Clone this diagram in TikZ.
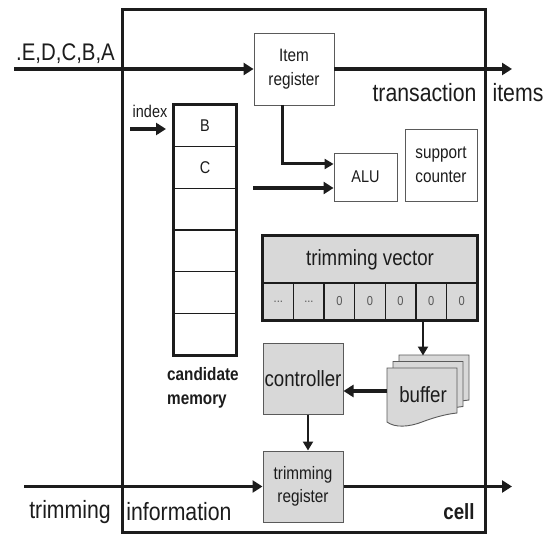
\documentclass[tikz,border=0pt]{standalone}
\usepackage{fontspec}
\newfontfamily\nf{Liberation Sans}[FakeStretch=0.85]
\usetikzlibrary{arrows.meta}
\definecolor{boxgray}{HTML}{D8D8D8}
\definecolor{ink}{HTML}{1C1C1C}
\definecolor{thinline}{HTML}{5A5A5A}
\newcommand\fsz[2]{\fontsize{#1}{#2}\selectfont}
\newcommand\tvdots{...}
\begin{document}
\begin{tikzpicture}[x=1pt,y=-1pt,font=\nf,text=ink,
  whitebox/.style={draw=thinline,line width=0.9pt,fill=white,inner sep=0pt,align=center},
  graybox/.style={draw=thinline,line width=1pt,fill=boxgray,inner sep=0pt,align=center},
  memrow/.style={draw=ink,line width=1.2pt,fill=white,minimum width=62pt,minimum height=41.67pt,inner sep=0pt,font=\nf\fsz{17}{20}},
  tvcell/.style={draw=ink,line width=1.4pt,fill=boxgray,minimum width=30.57pt,minimum height=37pt,inner sep=0pt,font=\nf\fsz{13}{15},text=ink!75},
  arr/.style={draw=ink,line width=3.6pt,-{Triangle[length=10pt,width=12pt]}},
  arrthin/.style={draw=ink,line width=2.6pt,-{Triangle[length=9pt,width=10pt]}},
  label/.style={inner sep=0pt,align=center},
  sheet/.style={draw=thinline,line width=0.9pt,fill=boxgray}]
\useasboundingbox (0,0) rectangle (551,534);
\fill[white] (0,0) rectangle (551,534);

% the cell
\draw[ink,line width=3pt] (122,9.5) rectangle (485,532);

% item register, ALU, support counter
\node[whitebox,minimum width=80pt,minimum height=72pt,font=\nf\fsz{18}{24}] (itemreg) at (294,69) {Item\\register};
\node[whitebox,minimum width=63pt,minimum height=48pt,font=\nf\fsz{17}{20}] (alu) at (365.5,177) {ALU};
\node[whitebox,minimum width=72pt,minimum height=72pt,font=\nf\fsz{18}{24}] (support) at (441,165) {support\\counter};

% candidate memory
\foreach \t [count=\i] in {B,C,{},{},{},{}}
  \node[memrow] (m\i) at (205,{105+41.67*(\i-0.5)}) {\t};
\draw[ink,line width=3pt] (m1.north west) rectangle (m6.south east);
\node[label,anchor=north west,align=left,font=\nf\bfseries\fsz{18}{24}] (candlabel) at (167,367) {candidate\\memory};
\node[label,font=\nf\fsz{17}{20}] (index) at (150,111) {index};
\coordinate (indexstart) at (130,129);

% trimming vector
\node[tvcell,minimum width=214pt,minimum height=47pt,font=\nf\fsz{22}{26},text=ink] (tvtitle) at (370,259.5) {trimming vector};
\foreach \t [count=\i] in {\tvdots,\tvdots,0,0,0,0,0}
  \node[tvcell] (c\i) at ({263+30.57*(\i-0.5)},301.5) {\t};
\draw[ink,line width=3pt] (tvtitle.north west) rectangle (c7.south east);

% controller and trimming register
\node[graybox,minimum width=80pt,minimum height=71pt,font=\nf\fsz{22}{26}] (controller) at (303,378.5) {controller};
\node[graybox,minimum width=80pt,minimum height=71pt,font=\nf\fsz{18}{23}] (trimreg) at (303,486.5) {trimming\\register};

% buffer: three stacked sheets
\foreach \dx/\dy in {12/-13,6/-6.5,0/0}
  \draw[sheet,shift={(387+\dx,368+\dy)}] (0,0) -- (70,0) -- (70,45)
     .. controls (60,46) and (48,49) .. (35,54)
     .. controls (22,59) and (8,60) .. (0,54) -- cycle;
\node[label,font=\nf\fsz{22}{26}] (buffer) at (423,395) {buffer};
\coordinate (buftop) at (423,355.5);
\coordinate (bufleft) at (387,391);

% outer labels
\node[label,anchor=base west,font=\nf\fsz{24}{28}] (stream) at (16,61) {.E,D,C,B,A};
\node[label,font=\nf\fsz{25}{30}] (transaction) at (424.5,93) {transaction};
\node[label,font=\nf\fsz{25}{30}] (items) at (518,93) {items};
\node[label,font=\nf\fsz{25}{30}] (trimming) at (70,512) {trimming};
\node[label,font=\nf\fsz{25}{30}] (information) at (179,512) {information};
\node[label,font=\nf\bfseries\fsz{22}{26}] (cell) at (459,512) {cell};

% connectors
\coordinate (instart) at (14,69);
\coordinate (inend) at (512,69);
\coordinate (trimstart) at (24,486.5);
\coordinate (trimend) at (512,486.5);
\coordinate (itemtap) at (282,105);
\coordinate (memout) at (253,188);

\draw[arr] (instart) -- (itemreg.west);
\draw[arr] (itemreg.east) -- (inend);
\draw[arrthin,line width=3pt] (itemtap) |- (alu.west |- 0,164);
\draw[arr] (memout) -- (alu.west |- memout);
\draw[arr] (indexstart) -- ++(36,0);
\draw[arrthin] (buftop |- c6.south) -- (buftop);
\draw[arr] (bufleft) -- (controller.east |- bufleft);
\draw[arrthin] (controller.south -| 308,0) -- (trimreg.north -| 308,0);
\draw[arr] (trimstart) -- (trimreg.west);
\draw[arr] (trimreg.east) -- (trimend);
\end{tikzpicture}
\end{document}
